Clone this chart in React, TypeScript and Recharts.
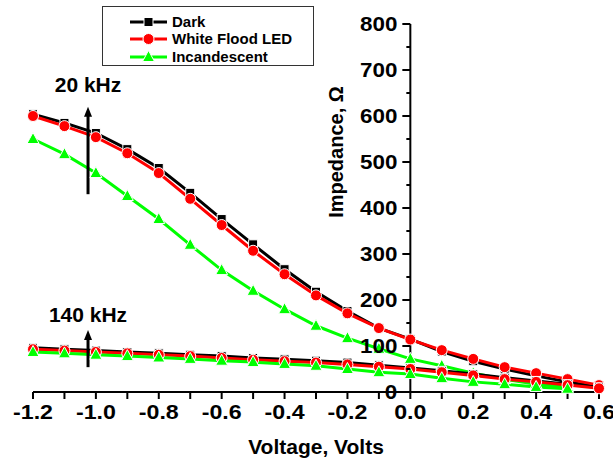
import { LineChart, Line, XAxis, YAxis, ReferenceLine, Legend } from 'recharts';

// ── data ───────────────────────────────────────────────────────────
const VOLTAGE = [-1.2, -1.1, -1.0, -0.9, -0.8, -0.7, -0.6, -0.5, -0.4, -0.3, -0.2, -0.1, 0.0, 0.1, 0.2, 0.3, 0.4, 0.5, 0.6];

// 20 kHz
const DARK_20K = [604, 585, 563, 528, 487, 433, 376, 321, 267, 218, 176, 139, 115, 88, 67, 50, 35, 22, 11];
const LED_20K = [600, 578, 554, 519, 476, 420, 363, 307, 256, 210, 171, 139, 114, 91, 72, 54, 41, 28, 15];
const INC_20K = [550, 517, 476, 426, 376, 320, 265, 220, 180, 144, 117, 94, 72, 57, 41, 28, 17, 11];

// 140 kHz
const DARK_140K = [96, 93, 90, 87, 84, 81, 78, 74, 71, 68, 64, 58, 52, 46, 39, 31, 24, 17, 10];
const LED_140K = [93, 90, 87, 84, 81, 78, 74, 70, 67, 64, 60, 55, 50, 43, 36, 28, 22, 15, 8];
const INC_140K = [87, 84, 81, 78, 75, 72, 68, 65, 61, 57, 50, 43, 39, 30, 22, 17, 11, 7];

const X_TICKS = [-1.2, -1.1, -1.0, -0.9, -0.8, -0.7, -0.6, -0.5, -0.4, -0.3, -0.2, -0.1, 0, 0.1, 0.2, 0.3, 0.4, 0.5, 0.6];
const Y_TICKS = [0, 50, 100, 150, 200, 250, 300, 350, 400, 450, 500, 550, 600, 650, 700, 750, 800];

const LEGEND_NAMES = ['Dark', 'White Flood LED', 'Incandescent'];
const LEGEND_COLORS = ['#000000', '#ff0000', '#00ff00'];
const LEGEND_SHAPES = ['square', 'circle', 'triangle'];

const data = VOLTAGE.map((v, i) => ({
  v,
  dark20: DARK_20K[i],
  led20: LED_20K[i],
  inc20: INC_20K[i],
  dark140: DARK_140K[i],
  led140: LED_140K[i],
  inc140: INC_140K[i],
}));

// ── layout ────────────────────────────────────────────────────────
const W = 613;
const H = 458;
const Y_AXIS_W = 1;
const MARGIN = { top: 24, right: 14, left: 32, bottom: 0 };
const PLOT_LEFT = MARGIN.left + Y_AXIS_W;
const PLOT_W = W - PLOT_LEFT - MARGIN.right;
const X_MIN = -1.2;
const X_MAX = 0.6;
const AXIS_X = PLOT_LEFT + (PLOT_W * (0 - X_MIN)) / (X_MAX - X_MIN);

const FONT = '"Liberation Sans", Arial, sans-serif';

// ══════════════════════════════════════════════════════════════════
// MARKERS
// ══════════════════════════════════════════════════════════════════

function Marker({ shape, cx, cy, color }: { shape: string; cx: number; cy: number; color: string }) {
  if (shape === 'square') {
    return <rect x={cx - 4.5} y={cy - 4.5} width={9} height={9} fill={color} stroke="#fff" strokeWidth={1} />;
  }
  if (shape === 'circle') {
    return <circle cx={cx} cy={cy} r={5.5} fill={color} stroke="#fff" strokeWidth={1} />;
  }
  return (
    <path
      d={`M${cx},${cy - 6.5} L${cx + 6},${cy + 4.5} L${cx - 6},${cy + 4.5} Z`}
      fill={color}
      stroke="#fff"
      strokeWidth={1}
    />
  );
}

const makeDot = (shape: string, color: string) => (props: any) => {
  const { cx, cy, index } = props;
  if (cx == null || cy == null) return <g key={index} />;
  return <Marker key={index} shape={shape} cx={cx} cy={cy} color={color} />;
};

// ══════════════════════════════════════════════════════════════════
// AXIS PIECES
// ══════════════════════════════════════════════════════════════════

function XTick({ x, y, payload }: any) {
  const v = payload.value;
  const show = Math.round(v * 10) % 2 === 0;
  if (!show) return <g />;
  return (
    <text
      transform={`translate(${x} ${y}) scale(1.16 1)`}
      dy="0.71em"
      textAnchor="middle"
      fontFamily={FONT}
      fontWeight="bold"
      fontSize={20}
      fill="#000"
    >
      {v.toFixed(1)}
    </text>
  );
}

// y axis sits at V = 0, in the middle of the plot
function YTick({ y, payload }: any) {
  const v = payload.value;
  const major = v % 100 === 0;
  return (
    <g>
      <line x1={AXIS_X - (major ? 8 : 4)} x2={AXIS_X} y1={y} y2={y} stroke="#000" strokeWidth={2} />
      {major && (
        <text
          transform={`translate(${AXIS_X - 13} ${y}) scale(1.12 1)`}
          dy="0.36em"
          textAnchor="end"
          fontFamily={FONT}
          fontWeight="bold"
          fontSize={20}
          fill="#000"
        >
          {v}
        </text>
      )}
    </g>
  );
}

function YTitle({ viewBox }: any) {
  const cx = AXIS_X - 74;
  const cy = viewBox.y + 128;
  return (
    <text
      x={cx}
      y={cy}
      transform={`rotate(-90 ${cx} ${cy})`}
      textAnchor="middle"
      dominantBaseline="central"
      fontFamily={FONT}
      fontWeight="bold"
      fontSize={20}
      fill="#000"
    >
      Impedance, Ω
    </text>
  );
}

function AxisLine({ x1, y1, x2, y2 }: any) {
  return <line x1={x1} y1={y1} x2={x2} y2={y2} stroke="#000" strokeWidth={2} />;
}

function Arrow({ x1, y1, y2 }: any) {
  const top = Math.min(y1, y2);
  const bottom = Math.max(y1, y2);
  return (
    <g>
      <line x1={x1} x2={x1} y1={top + 8} y2={bottom} stroke="#000" strokeWidth={3} />
      <path d={`M${x1},${top} L${x1 + 4},${top + 10} L${x1 - 4},${top + 10} Z`} fill="#000" />
    </g>
  );
}

// ══════════════════════════════════════════════════════════════════
// LEGEND
// ══════════════════════════════════════════════════════════════════

function LegendBox() {
  return (
    <div
      style={{
        width: 212,
        height: 60,
        border: '1px solid #333',
        background: '#fff',
        boxSizing: 'border-box',
        paddingTop: 6,
      }}
    >
      {LEGEND_NAMES.map((name, i) => (
        <div key={name} style={{ display: 'flex', alignItems: 'center', height: 17.5 }}>
          <svg width={70} height={16} style={{ display: 'block' }}>
            <line x1={27} x2={64} y1={8} y2={8} stroke={LEGEND_COLORS[i]} strokeWidth={3} />
            <Marker shape={LEGEND_SHAPES[i]} cx={45.5} cy={8} color={LEGEND_COLORS[i]} />
          </svg>
          <span
            style={{
              fontFamily: FONT,
              fontWeight: 'bold',
              fontSize: 15,
              color: '#000',
              marginLeft: -1,
              lineHeight: '16px',
            }}
          >
            {name}
          </span>
        </div>
      ))}
    </div>
  );
}

// ══════════════════════════════════════════════════════════════════
// MAIN COMPONENT
// ══════════════════════════════════════════════════════════════════

const labelStyle = { fontFamily: FONT, fontWeight: 'bold', fontSize: 21, fill: '#000' };

export default function App() {
  return (
    <div style={{ position: 'absolute', left: 0, top: 0, width: W, height: H, background: '#fff' }}>
      <LineChart width={W} height={H} data={data} margin={MARGIN}>
        <XAxis
          dataKey="v"
          type="number"
          domain={[X_MIN, X_MAX]}
          ticks={X_TICKS}
          interval={0}
          height={66}
          tickSize={7}
          tickMargin={6}
          axisLine={{ stroke: '#000', strokeWidth: 2 }}
          tickLine={{ stroke: '#000', strokeWidth: 2 }}
          tick={<XTick />}
          label={{
            value: 'Voltage, Volts',
            position: 'insideBottom',
            offset: 4,
            style: { fontFamily: FONT, fontWeight: 'bold', fontSize: 21, fill: '#000' },
          }}
        />
        <YAxis
          type="number"
          domain={[0, 800]}
          ticks={Y_TICKS}
          interval={0}
          width={Y_AXIS_W}
          axisLine={false}
          tickLine={false}
          tick={<YTick />}
          label={<YTitle />}
        />

        <ReferenceLine x={0} shape={<AxisLine />} />

        <Legend
          layout="vertical"
          align="center"
          verticalAlign="middle"
          content={<LegendBox />}
          wrapperStyle={{ position: 'absolute', left: 102, top: 6, width: 212, height: 60 }}
        />

        {/* 20 kHz */}
        <Line dataKey="dark20" name="Dark" stroke="#000000" strokeWidth={3} dot={makeDot('square', '#000000')} isAnimationActive={false} legendType="none" />
        <Line dataKey="led20" name="White Flood LED" stroke="#ff0000" strokeWidth={3} dot={makeDot('circle', '#ff0000')} isAnimationActive={false} legendType="none" />
        <Line dataKey="inc20" name="Incandescent" stroke="#00ff00" strokeWidth={3} dot={makeDot('triangle', '#00ff00')} isAnimationActive={false} legendType="none" />

        {/* 140 kHz */}
        <Line dataKey="dark140" name="Dark" stroke="#000000" strokeWidth={3} dot={makeDot('square', '#000000')} isAnimationActive={false} legendType="none" />
        <Line dataKey="led140" name="White Flood LED" stroke="#ff0000" strokeWidth={3} dot={makeDot('circle', '#ff0000')} isAnimationActive={false} legendType="none" />
        <Line dataKey="inc140" name="Incandescent" stroke="#00ff00" strokeWidth={3} dot={makeDot('triangle', '#00ff00')} isAnimationActive={false} legendType="none" />

        {/* frequency annotations */}
        <ReferenceLine
          segment={[{ x: -1.025, y: 430 }, { x: -1.025, y: 620 }]}
          shape={<Arrow />}
          label={{ value: '20 kHz', position: 'top', offset: 15, style: labelStyle }}
        />
        <ReferenceLine
          segment={[{ x: -1.025, y: 54 }, { x: -1.025, y: 135 }]}
          shape={<Arrow />}
          label={{ value: '140 kHz', position: 'top', offset: 8, style: labelStyle }}
        />
      </LineChart>
    </div>
  );
}
